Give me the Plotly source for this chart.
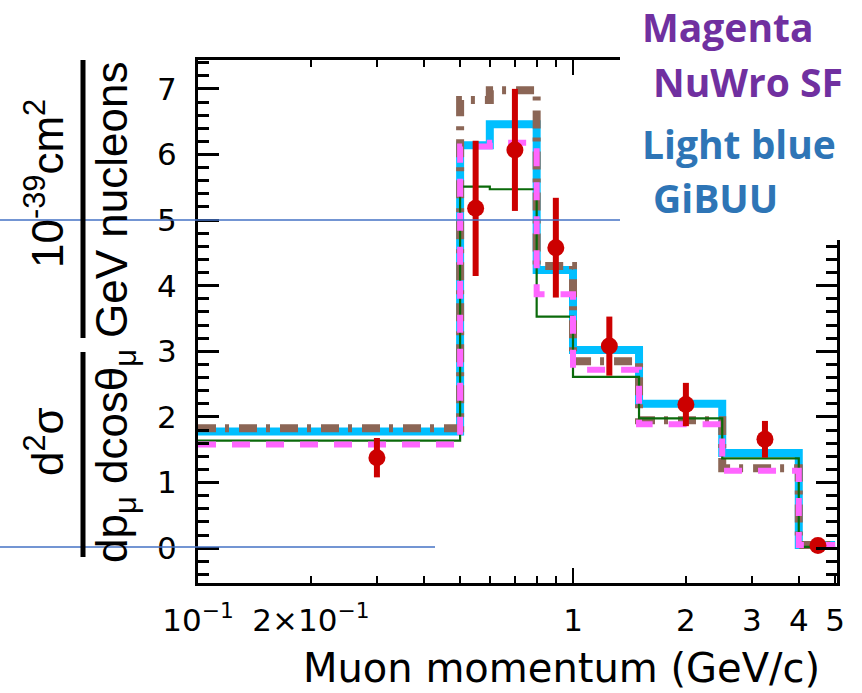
import plotly.graph_objects as go

# ---------------- data ----------------
bin_edges = [0.1, 0.5, 0.6, 0.8, 1.0, 1.5, 2.5, 4.0, 5.0]
data_x = [0.3, 0.55, 0.7, 0.9, 1.25, 2.0, 3.25, 4.5]
data_y = [1.38, 5.18, 6.07, 4.58, 3.08, 2.19, 1.66, 0.04]
data_err = [0.30, 1.03, 0.93, 0.76, 0.45, 0.33, 0.28, 0.03]

gibuu_vals = [1.78, 6.14, 6.46, 4.24, 3.02, 2.20, 1.45, 0.05]      # light blue
brown_vals = [1.83, 6.83, 6.98, 4.30, 2.85, 1.95, 1.22, 0.05]      # brown dash-dot
green_vals = [1.64, 5.51, 5.47, 3.53, 2.61, 1.98, 1.37, 0.02]      # green solid
nuwro_vals = [1.58, 6.12, 6.18, 3.87, 2.72, 1.89, 1.18, 0.05]      # magenta dashed

x_tickvals = [0.1, 0.2, 1, 2, 3, 4, 5]
x_ticktext = ["10<sup>\u22121</sup>", "2\u00d710<sup>\u22121</sup>", "1", "2", "3", "4", "5"]
x_minorvals = [0.3, 0.4, 0.5, 0.6, 0.7, 0.8, 0.9]
y_tickvals = [0, 1, 2, 3, 4, 5, 6, 7]

# ---------------- layout geometry ----------------
W, H = 862, 693
L, R, T, B = 198, 837, 60, 583
PW, PH = R - L, B - T


def px(x):
    return (x - L) / PW


def py(y):
    return (B - y) / PH


def step(vals):
    xs = list(bin_edges)
    ys = list(vals) + [vals[-1]]
    return xs, ys


fig = go.Figure()

x, y = step(gibuu_vals)
fig.add_trace(go.Scatter(x=x, y=y, mode="lines", line_shape="hv",
                         line=dict(color="#00BFFF", width=8), showlegend=False))
x, y = step(brown_vals)
fig.add_trace(go.Scatter(x=x, y=y, mode="lines", line_shape="hv",
                         line=dict(color="#8B6656", width=8, dash="18px,9px,4px,10px"),
                         showlegend=False))
x, y = step(green_vals)
fig.add_trace(go.Scatter(x=x, y=y, mode="lines", line_shape="hv",
                         line=dict(color="#0A6A0A", width=2.2), showlegend=False))
x, y = step(nuwro_vals)
fig.add_trace(go.Scatter(x=x, y=y, mode="lines", line_shape="hv",
                         line=dict(color="#FF66FF", width=6, dash="18px,16px"),
                         showlegend=False))
fig.add_trace(go.Scatter(x=data_x, y=data_y, mode="markers",
                         marker=dict(color="#CC0000", size=17),
                         error_y=dict(type="data", array=data_err, color="#CC0000",
                                      thickness=6, width=0),
                         showlegend=False))

axis_font = dict(family="DejaVu Sans", size=31, color="black")

fig.update_xaxes(type="log", range=[-1, 0.704],
                 tickvals=x_tickvals, ticktext=x_ticktext,
                 ticks="inside", ticklen=7, tickwidth=2, tickcolor="black",
                 minor=dict(tickvals=x_minorvals, ticks="inside", ticklen=7,
                            tickwidth=2, tickcolor="black", showgrid=False),
                 showline=True, linewidth=3, linecolor="black", mirror="ticks",
                 showgrid=False, zeroline=False, tickfont=axis_font,
                 ticklabelstandoff=8)
fig.update_yaxes(range=[-0.53, 7.44], tickvals=y_tickvals,
                 ticks="inside", ticklen=21, tickwidth=2.5, tickcolor="black",
                 minor=dict(dtick=0.2, tick0=0, ticks="inside", ticklen=11,
                            tickwidth=2.5, tickcolor="black", showgrid=False),
                 showline=True, linewidth=3, linecolor="black", mirror="ticks",
                 showgrid=False, zeroline=False, tickfont=axis_font,
                 ticklabelstandoff=12)

shapes = []
# longer tick at 1 on bottom and top
for y0, y1 in [(0, 15 / PH), (1 - 15 / PH, 1)]:
    shapes.append(dict(type="line", xref="x", yref="paper", x0=1, x1=1, y0=y0, y1=y1,
                       line=dict(color="black", width=2)))
# white text box covering upper right
shapes.append(dict(type="rect", xref="paper", yref="paper",
                   x0=px(620), x1=px(870), y0=py(240), y1=py(-10),
                   fillcolor="white", line=dict(width=0), layer="above"))
# thin blue slide guide lines
shapes.append(dict(type="line", xref="paper", yref="paper",
                   x0=px(0), x1=px(620), y0=py(220), y1=py(220),
                   line=dict(color="#4472C4", width=1.3), layer="above"))
shapes.append(dict(type="line", xref="paper", yref="paper",
                   x0=px(0), x1=px(435), y0=py(547), y1=py(547),
                   line=dict(color="#4472C4", width=1.3), layer="above"))
# fraction bars of the y label
shapes.append(dict(type="line", xref="paper", yref="paper",
                   x0=px(83), x1=px(83), y0=py(60), y1=py(338),
                   line=dict(color="black", width=5)))
shapes.append(dict(type="line", xref="paper", yref="paper",
                   x0=px(83), x1=px(83), y0=py(352), y1=py(557),
                   line=dict(color="black", width=5)))

lab_font = dict(family="Liberation Sans, Arial", size=44, color="black")
annotations = [
    dict(text="10<sup>-39</sup>cm<sup>2</sup>", x=px(44), y=py(184), textangle=-90,
         font=lab_font),
    dict(text="GeV nucleons", x=px(112), y=py(200), textangle=-90, font=lab_font),
    dict(text="d<sup>2</sup>\u03c3", x=px(44), y=py(442), textangle=-90, font=lab_font),
    dict(text="dp<sub>\u03bc</sub> dcos\u03b8<sub>\u03bc</sub>", x=px(115), y=py(456),
         textangle=-90, font=lab_font),
    dict(text="Muon momentum (GeV/c)", x=px(561), y=py(693), yanchor="bottom",
         font=dict(family="DejaVu Sans", size=40, color="black")),
]
txt_font = dict(family="Open Sans", size=39, weight="bold")
for text, xx, yy, col in [("Magenta", 640, 27, "#7030A0"),
                          ("NuWro SF", 651, 82, "#7030A0"),
                          ("Light blue", 640, 143, "#2E75B6"),
                          ("GiBUU", 651, 197, "#2E75B6")]:
    annotations.append(dict(text=text, x=px(xx), y=py(yy), xanchor="left",
                            font=dict(txt_font, color=col)))
for a in annotations:
    a.setdefault("xref", "paper")
    a.setdefault("yref", "paper")
    a.setdefault("showarrow", False)
    a.setdefault("yanchor", "middle")
    a.setdefault("xanchor", "center")

fig.update_layout(width=W, height=H, margin=dict(l=L, r=W - R, t=T, b=H - B),
                  paper_bgcolor="white", plot_bgcolor="white",
                  shapes=shapes, annotations=annotations)

fig.write_html("out.html")
